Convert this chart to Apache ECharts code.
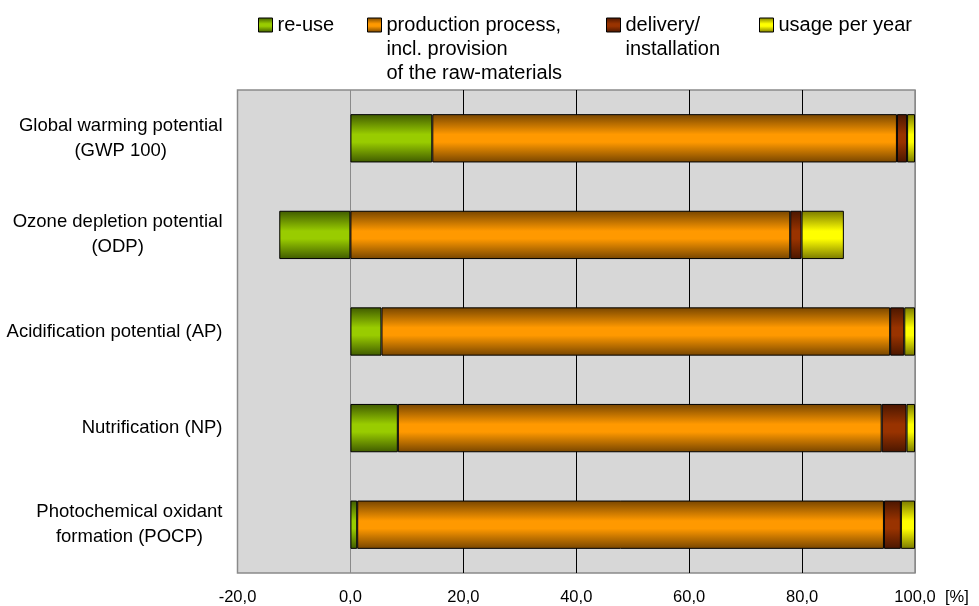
<!DOCTYPE html>
<html>
<head>
<meta charset="utf-8">
<script src="https://cdn.jsdelivr.net/npm/echarts@6/dist/echarts.min.js"></script>
<style>html,body{margin:0;padding:0;background:#fff;}#c{width:979px;height:606px;}</style>
</head>
<body>
<div id="c"></div>
<script>
// ---- data ----
const categories = [
  'Global warming potential\n(GWP 100)',
  'Ozone depletion potential\n(ODP)',
  'Acidification potential (AP)',
  'Nutrification (NP)',
  'Photochemical oxidant\nformation (POCP)'
];
const reuse = [14.5, -12.6, 5.5, 8.4, 1.2];
const production = [82.3, 77.9, 90.1, 85.7, 93.3];
const delivery = [1.8, 2.0, 2.5, 4.4, 3.0];
const usage = [1.4, 7.5, 1.9, 1.5, 2.5];
const xTicks = [-20, 0, 20, 40, 60, 80, 100];
const seriesNames = ['re-use', 'production process, incl. provision of the raw-materials', 'delivery/installation', 'usage per year'];
const legendLabels = ['re-use', 'production process,\nincl. provision\nof the raw-materials', 'delivery/\ninstallation', 'usage per year'];

const FONT = 'Liberation Sans, Arial, sans-serif';
function grad(dark, bright) {
  return new echarts.graphic.LinearGradient(0, 0, 0, 1, [
    {offset: 0, color: dark},
    {offset: 0.42, color: bright},
    {offset: 0.58, color: bright},
    {offset: 1, color: dark}
  ]);
}
const fills = [
  grad('#3f5a00', '#99cc00'),
  grad('#774500', '#ff9900'),
  grad('#4a1600', '#993300'),
  grad('#7a7a00', '#ffff00')
];
const values = [reuse, production, delivery, usage];

const series = values.map((arr, i) => ({
  name: seriesNames[i],
  type: 'bar',
  stack: 'total',
  barWidth: '50%',
  data: arr,
  itemStyle: {color: fills[i], borderColor: '#000', borderWidth: 1},
  emphasis: {disabled: true}
}));

// legend: one component per item to place like the reference
const legendLeft = [258, 367, 606, 759];
const legendPad = [0, 2, 1, 0]; // empty lines above so the icon sits on the first line
const legends = seriesNames.map((n, i) => {
  const nLines = legendLabels[i].split('\n').length;
  const total = nLines + legendPad[i];
  const top = 18 + 7 - total * 24 / 2;
  return {
    data: [n],
    left: legendLeft[i],
    top: top,
    padding: 0,
    itemWidth: 14,
    itemHeight: 14,
    icon: 'rect',
    selectedMode: false,
    itemStyle: {borderColor: '#000', borderWidth: 1},
    formatter: () => '\n'.repeat(legendPad[i]) + legendLabels[i],
    textStyle: {fontFamily: FONT, fontSize: 20, lineHeight: 24, color: '#000'}
  };
});

const chart = echarts.init(document.getElementById('c'), null, {renderer: 'canvas'});
chart.setOption({
  animation: false,
  backgroundColor: '#fff',
  legend: legends,
  grid: {
    left: 237.5, right: 64, top: 90, bottom: 33,
    show: true, backgroundColor: '#d7d7d7', borderColor: '#8a8a8a', borderWidth: 1.5
  },
  xAxis: {
    type: 'value',
    min: xTicks[0], max: xTicks[xTicks.length - 1], interval: 20,
    axisLine: {show: false},
    axisTick: {show: false},
    splitLine: {show: true, lineStyle: {color: ['#8a8a8a', '#8a8a8a', '#000', '#000', '#000', '#000', '#8a8a8a'], width: 1}},
    axisLabel: {
      margin: 16,
      fontFamily: FONT, fontSize: 16.5, color: '#000',
      formatter: v => v.toFixed(1).replace('.', ',')
    }
  },
  yAxis: {
    type: 'category',
    inverse: true,
    data: categories,
    axisLine: {show: false, onZero: false},
    axisTick: {show: false},
    splitLine: {show: false},
    axisLabel: {
      margin: 15,
      fontFamily: FONT, fontSize: 18.5, lineHeight: 25, color: '#000',
      formatter: v => v.split('\n').map(l => '{c|' + l + '}').join('\n'),
      rich: {c: {align: 'center', fontFamily: FONT, fontSize: 18.5, lineHeight: 25, color: '#000'}}
    }
  },
  graphic: [{
    type: 'text', left: 945, top: 589,
    style: {text: '[%]', fontFamily: FONT, fontSize: 16.5, fill: '#000'}
  }],
  series: series
});
</script>
</body>
</html>
